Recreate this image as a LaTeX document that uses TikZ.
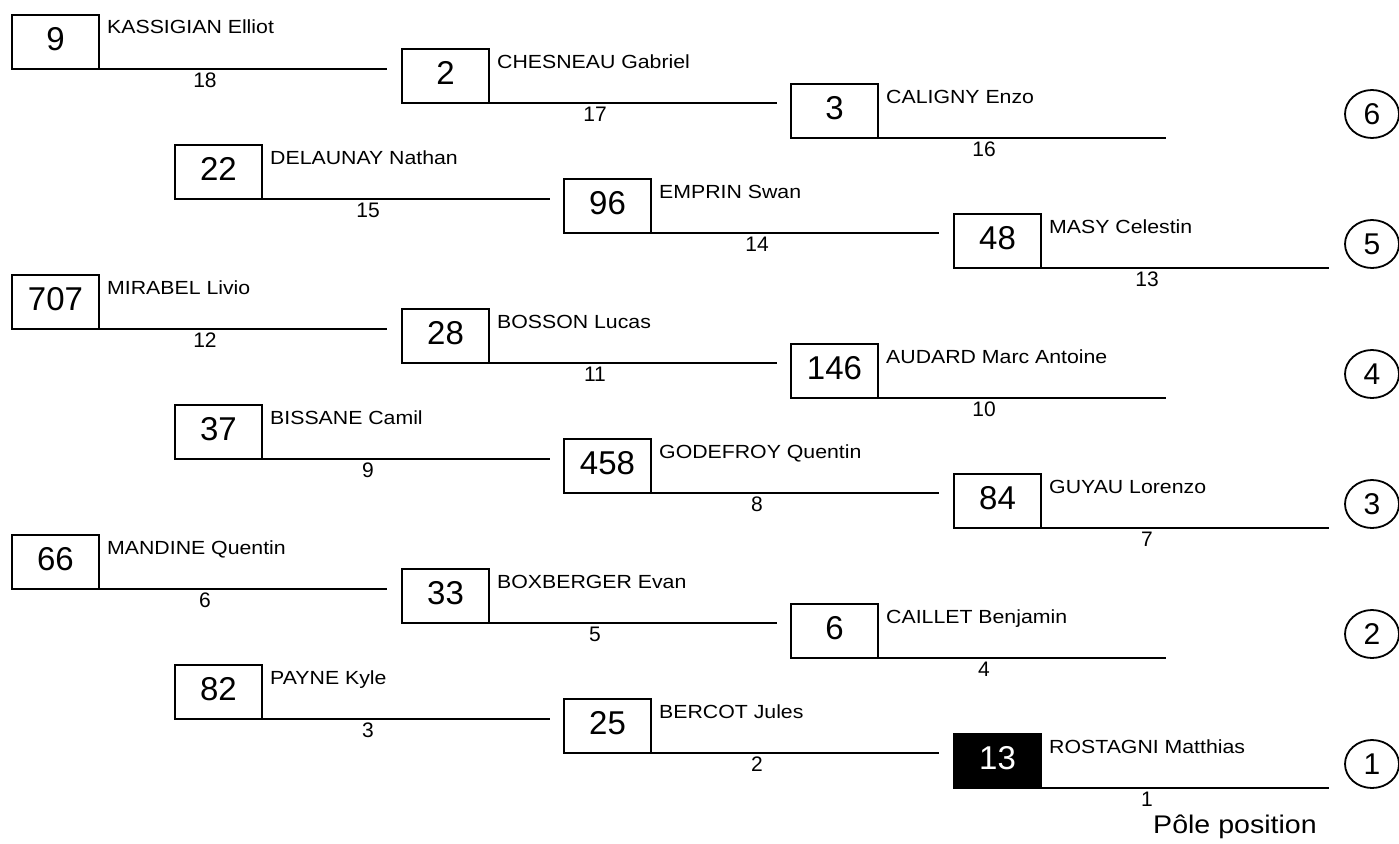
\documentclass[tikz,border=0pt]{standalone}
\usepackage{fontspec}
\setmainfont{Liberation Sans}
\newfontfamily\nomfont[FakeStretch=1.12]{Liberation Sans}
\usetikzlibrary{calc,shapes.geometric}
\tikzset{
  boite/.style={draw, line width=1.2pt, anchor=north west, outer sep=0pt,
    minimum width=87pt, minimum height=54pt, inner sep=0pt, text depth=6pt,
    font=\fontsize{33}{33}\selectfont},
  pole/.style={boite, fill=black, text=white},
  nom/.style={anchor=base west, inner sep=0pt, font=\nomfont\fontsize{19}{19}\selectfont},
  rang/.style={inner sep=0pt, font=\fontsize{21}{21}\selectfont},
  grille/.style={draw, ellipse, line width=1.8pt, minimum width=54pt, minimum height=48pt,
    inner sep=0pt, font=\fontsize{30}{30}\selectfont}
}
% #1 style, #2 id, #3/#4 top left of the box, #5 number, #6 driver, #7 grid place
\newcommand{\pilote}[7][boite]{%
  \node[#1] (#2) at (#3,#4) {#5};
  \coordinate (#2-f) at ($(#2.south west)+(375,0)$);
  \draw[line width=1.2pt] (#2.south west) -- (#2-f);
  \node[nom] (#2-nom) at ($(#2.north east)+(8,19)$) {#6};
  \node[rang] (#2-rang) at ($(#2.south west)+(193,11)$) {#7};
}
\begin{document}
\begin{tikzpicture}[x=1pt,y=-1pt]
  \path[use as bounding box] (0,0) rectangle (1399,843);
  \clip (0,0) rectangle (1399,843);

  \pilote{p18}{12}{15}{9}{KASSIGIAN Elliot}{18}
  \pilote{p17}{402}{49}{2}{CHESNEAU Gabriel}{17}
  \pilote{p16}{791}{84}{3}{CALIGNY Enzo}{16}
  \pilote{p15}{175}{145}{22}{DELAUNAY Nathan}{15}
  \pilote{p14}{564}{179}{96}{EMPRIN Swan}{14}
  \pilote{p13}{954}{214}{48}{MASY Celestin}{13}

  \pilote{p12}{12}{275}{707}{MIRABEL Livio}{12}
  \pilote{p11}{402}{309}{28}{BOSSON Lucas}{11}
  \pilote{p10}{791}{344}{146}{AUDARD Marc Antoine}{10}
  \pilote{p9}{175}{405}{37}{BISSANE Camil}{9}
  \pilote{p8}{564}{439}{458}{GODEFROY Quentin}{8}
  \pilote{p7}{954}{474}{84}{GUYAU Lorenzo}{7}

  \pilote{p6}{12}{535}{66}{MANDINE Quentin}{6}
  \pilote{p5}{402}{569}{33}{BOXBERGER Evan}{5}
  \pilote{p4}{791}{604}{6}{CAILLET Benjamin}{4}
  \pilote{p3}{175}{665}{82}{PAYNE Kyle}{3}
  \pilote{p2}{564}{699}{25}{BERCOT Jules}{2}
  \pilote[pole]{p1}{954}{734}{13}{ROSTAGNI Matthias}{1}

  \foreach \k in {1,...,6}
    \node[grille] (g\k) at (1372,{114+130*(6-\k)}) {\k};

  \node[anchor=base west, inner sep=0pt, font=\nomfont\fontsize{25.5}{25.5}\selectfont]
    (pole-txt) at (1153,833) {Pôle position};
\end{tikzpicture}
\end{document}
